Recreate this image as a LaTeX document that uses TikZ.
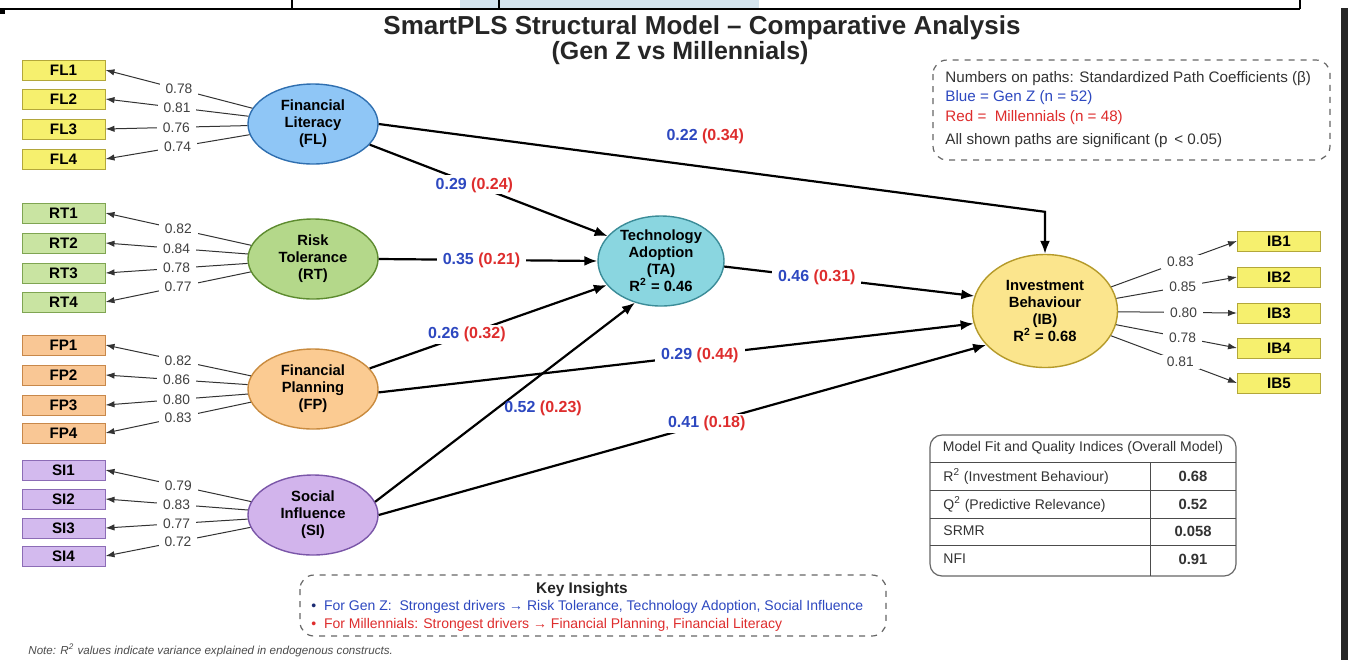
\documentclass[tikz,border=0pt]{standalone}
\usepackage{fontspec}
\setmainfont{Liberation Sans}
\usetikzlibrary{arrows.meta,positioning,shapes.geometric,calc}

\definecolor{gzblue}{RGB}{45,72,192}
\definecolor{mlred}{RGB}{222,45,45}
\definecolor{cellblue}{HTML}{D4E4EE}
% indicator boxes
\definecolor{flbox}{HTML}{F6F06E}\definecolor{flline}{HTML}{B3A73A}
\definecolor{rtbox}{HTML}{C9E4A2}\definecolor{rtline}{HTML}{7FA552}
\definecolor{fpbox}{HTML}{F9C795}\definecolor{fpline}{HTML}{C8884A}
\definecolor{sibox}{HTML}{D3BAEE}\definecolor{siline}{HTML}{8C6CB6}
% latent constructs
\definecolor{flfill}{HTML}{8FC6F6}\definecolor{fldraw}{HTML}{2F6FB0}
\definecolor{rtfill}{HTML}{B4D88A}\definecolor{rtdraw}{HTML}{5D8B2F}
\definecolor{fpfill}{HTML}{FBCB92}\definecolor{fpdraw}{HTML}{C98B3F}
\definecolor{sifill}{HTML}{D2B4EC}\definecolor{sidraw}{HTML}{7A56A8}
\definecolor{tafill}{HTML}{8AD6E0}\definecolor{tadraw}{HTML}{3B8C98}
\definecolor{ibfill}{HTML}{FBE58D}\definecolor{ibdraw}{HTML}{B59A2A}

\newcommand{\pcoef}[2]{\textcolor{gzblue}{#1} \textcolor{mlred}{(#2)}}

\begin{document}
\begin{tikzpicture}[x=0.5pt,y=-0.5pt,
        ind/.style={draw, line width=0.5pt, minimum width=41.5pt, minimum height=10pt, inner sep=0pt, font=\fontsize{7.6}{8}\selectfont\bfseries},
        lat/.style={ellipse, draw, line width=0.7pt, minimum width=65pt, minimum height=40pt, inner sep=0pt, align=center, font=\fontsize{7.4}{8.5}\selectfont\bfseries},
        ldg/.style={fill=white, inner xsep=3pt, inner ysep=1pt, text=black!75, font=\fontsize{6.9}{7}\selectfont},
        coef/.style={fill=white, inner xsep=3pt, inner ysep=1pt, font=\fontsize{8}{9}\selectfont\bfseries},
        loadarr/.style={-{Latex[length=4.5pt,width=3.2pt]}, line width=0.5pt, draw=black!80},
        patharr/.style={-{Latex[length=6.5pt,width=5pt]}, line width=1.1pt},
        txt/.style={inner sep=0pt, anchor=west},
    ]
    \fill[white] (0,0) rectangle (1348,660);
    \useasboundingbox (0,0) rectangle (1348,660);

    % cropped strip at the top and right edge
    \fill[cellblue] (460,0) rectangle (759,9);
    \draw[line width=1pt] (0,9) -- (1300,9);
    \draw[line width=1pt] (292,0) -- (292,9) (499,0) -- (499,9) (1300,0) -- (1300,9);
    \fill (0,9) rectangle (5,14);
    \fill[black!85] (1341,8) rectangle (1348,660);

    % title
    \node[font=\fontsize{13}{14}\selectfont\bfseries, text=black!85] (title) at (702,28) {SmartPLS Structural Model – Comparative Analysis};
    \node[font=\fontsize{12.5}{14}\selectfont\bfseries, text=black!85] (subtitle) at (680,53) {(Gen Z vs Millennials)};

    % latent constructs
    \node[lat, fill=flfill, draw=fldraw] (FL) at (313,124) {Financial\\Literacy\\(FL)};
    \node[lat, fill=rtfill, draw=rtdraw] (RT) at (313,259) {Risk\\Tolerance\\(RT)};
    \node[lat, fill=fpfill, draw=fpdraw] (FP) at (313,389) {Financial\\Planning\\(FP)};
    \node[lat, fill=sifill, draw=sidraw] (SI) at (313,515) {Social\\Influence\\(SI)};
    \node[lat, fill=tafill, draw=tadraw, minimum width=63pt, minimum height=45pt] (TA) at (661,261) {Technology\\Adoption\\(TA)\\R\textsuperscript{2} = 0.46};
    \node[lat, fill=ibfill, draw=ibdraw, minimum width=72.5pt, minimum height=56.5pt] (IB) at (1045,311) {Investment\\Behaviour\\(IB)\\R\textsuperscript{2} = 0.68};

    % indicators and loadings
    \foreach \i/\y/\v in {1/70/0.78,2/99/0.81,3/129/0.76,4/159/0.74} {
            \node[ind, fill=flbox, draw=flline] (FL\i) at (63.5,\y) {FL\i};
            \draw[loadarr] (FL) -- node[ldg] {\v} (FL\i.east);
        }
    \foreach \i/\y/\v in {1/213/0.82,2/243/0.84,3/273/0.78,4/302/0.77} {
            \node[ind, fill=rtbox, draw=rtline] (RT\i) at (63.5,\y) {RT\i};
            \draw[loadarr] (RT) -- node[ldg] {\v} (RT\i.east);
        }
    \foreach \i/\y/\v in {1/345/0.82,2/375/0.86,3/405/0.80,4/433/0.83} {
            \node[ind, fill=fpbox, draw=fpline] (FP\i) at (63.5,\y) {FP\i};
            \draw[loadarr] (FP) -- node[ldg] {\v} (FP\i.east);
        }
    \foreach \i/\y/\v in {1/470/0.79,2/499/0.83,3/528/0.77,4/556/0.72} {
            \node[ind, fill=sibox, draw=siline] (SI\i) at (63.5,\y) {SI\i};
            \draw[loadarr] (SI) -- node[ldg] {\v} (SI\i.east);
        }
    \foreach \i/\y/\v in {1/241/0.83,2/277/0.85,3/313/0.80,4/348/0.78,5/383/0.81} {
            \node[ind, fill=flbox, draw=flline] (IB\i) at (1279,\y) {IB\i};
            \draw[loadarr] (IB) -- node[ldg, pos=0.55] {\v} (IB\i.west);
        }

    % structural paths
    \path (IB.north) ++(0,-42) coordinate (kink);
    \draw[patharr] (FL.east) -- node[pos=0.49, above=11pt, inner sep=0pt, font=\fontsize{8}{9}\selectfont\bfseries] {\pcoef{0.22}{0.34}} (kink) -- (IB.north);
    \draw[patharr] (FL.-20) -- node[coef, pos=0.44] {\pcoef{0.29}{0.24}} (TA.155);
    \draw[patharr] (RT.east) -- node[coef, pos=0.47] {\pcoef{0.35}{0.21}} (TA.west);
    \draw[patharr] (FP.20) -- node[coef, pos=0.41] {\pcoef{0.26}{0.32}} (TA.-156);
    \draw[patharr] (SI.12) -- node[pos=0.47, right=3pt, inner sep=0pt, font=\fontsize{8}{9}\selectfont\bfseries] {\pcoef{0.52}{0.23}} (TA.-122);
    \draw[patharr] (TA.-5) -- node[coef, pos=0.37] {\pcoef{0.46}{0.31}} (IB.168);
    \draw[patharr] (FP.-3) -- node[coef, pos=0.54] {\pcoef{0.29}{0.44}} (IB.190);
    \draw[patharr] (SI.east) -- node[coef, pos=0.54] {\pcoef{0.41}{0.18}} (IB.-150);

    % legend
    \draw[black!60, dashed, rounded corners=7pt, line width=0.6pt] (933,60) rectangle (1330,160);
    \begin{scope}[font=\fontsize{7.6}{8}\selectfont]
        \node[txt, text=black!80] (lg1) at (945,79) {Numbers on paths: Standardized Path Coefficients (β)};
        \node[txt, text=gzblue] (lg2) at (945,98) {Blue = Gen Z (n = 52)};
        \node[txt, text=mlred] (lg3) at (945,118) {Red = \ Millennials (n = 48)};
        \node[txt, text=black!80] (lg4) at (945,141) {All shown paths are significant (p \,< 0.05)};
    \end{scope}

    % model fit table
    \draw[black!60, rounded corners=6pt, line width=0.6pt] (930,435) rectangle (1236,576);
    \foreach \y in {462,490,518,545} {
            \draw[black!70, line width=0.5pt] (930,\y) -- (1236,\y);
        }
    \draw[black!70, line width=0.5pt] (1150,462) -- (1150,576);
    \node[font=\fontsize{7}{8}\selectfont, text=black!80] (fithead) at (1083,448) {Model Fit and Quality Indices (Overall Model)};
    \foreach \y/\lab/\val in {476/{R\textsuperscript{2} (Investment Behaviour)}/0.68,504/{Q\textsuperscript{2} (Predictive Relevance)}/0.52,531/SRMR/0.058,559/NFI/0.91} {
            \node[txt, font=\fontsize{7}{8}\selectfont, text=black!80] at (943,\y) {\lab};
            \node[font=\fontsize{7.4}{8}\selectfont\bfseries, text=black!80] at (1193,\y) {\val};
        }

    % key insights
    \draw[black!60, dashed, rounded corners=7pt, line width=0.6pt] (300,575) rectangle (886,636);
    \node[font=\fontsize{7.7}{8}\selectfont\bfseries, text=black!85] (kihead) at (582,590) {Key Insights};
    \begin{scope}[font=\fontsize{7}{8}\selectfont]
        \node[txt, text=gzblue] (ki1) at (311,607) {\textcolor{gzblue!60!black}{•}\ \ For Gen Z: \ Strongest drivers → Risk Tolerance, Technology Adoption, Social Influence};
        \node[txt, text=mlred] (ki2) at (311,625) {•\ \ For Millennials: Strongest drivers → Financial Planning, Financial Literacy};
    \end{scope}

    % note
    \node[txt, font=\fontsize{5.8}{6}\selectfont\itshape, text=black!70] (note) at (28,650) {Note: R\textsuperscript{2} values indicate variance explained in endogenous constructs.};
\end{tikzpicture}
\end{document}
